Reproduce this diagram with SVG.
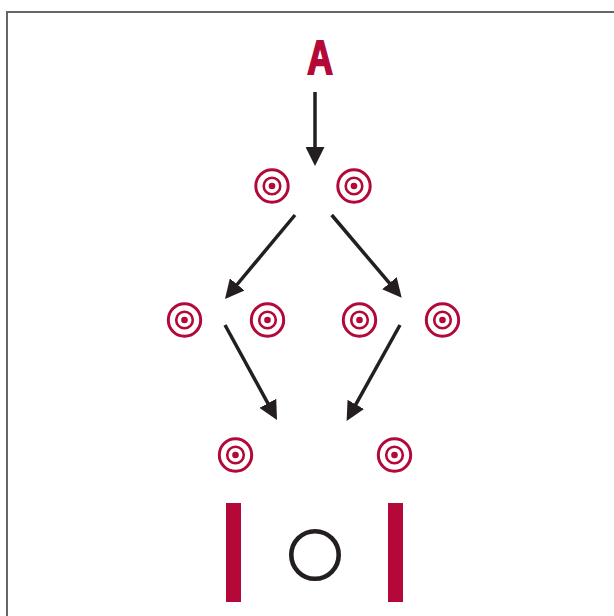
<svg xmlns="http://www.w3.org/2000/svg" width="614" height="616" viewBox="0 0 614 616">
  <style>
    .ring { fill: none; stroke: #b30838; }
    .outer { stroke-width: 3; }
    .inner { stroke-width: 2.6; }
    .dot { fill: #b30838; }
    .arrow { stroke: #231f20; stroke-width: 3.5; fill: none; marker-end: url(#head); }
    .bar { fill: #b30838; }
    .label { font-family: "Liberation Sans", Arial, sans-serif; font-weight: bold; font-size: 48px; fill: #b30838; stroke: #b30838; stroke-width: 2; stroke-linejoin: miter; }
  </style>
  <defs>
    <marker id="head" markerUnits="userSpaceOnUse" viewBox="0 0 19 19" markerWidth="19" markerHeight="19" refX="4" refY="9.5" orient="auto">
      <path d="M0,0 L19,9.5 L0,19 z" fill="#231f20"/>
    </marker>
    <g id="target">
      <circle class="ring outer" r="16.2"/>
      <circle class="ring inner" r="8.3"/>
      <circle class="dot" r="3.3"/>
    </g>
  </defs>
  <rect width="614" height="616" fill="#ffffff"/>
  <path d="M7,616 V12 H614" fill="none" stroke="#666666" stroke-width="2"/>

  <g id="label-A">
    <text class="label" text-anchor="middle" transform="translate(320,74) scale(0.74,1)">A</text>
  </g>

  <g id="t1"><use href="#target" x="272" y="186"/></g>
  <g id="t2"><use href="#target" x="354" y="186"/></g>
  <g id="t3"><use href="#target" x="184.5" y="320"/></g>
  <g id="t4"><use href="#target" x="267.5" y="320"/></g>
  <g id="t5"><use href="#target" x="359.5" y="320"/></g>
  <g id="t6"><use href="#target" x="442.5" y="320"/></g>
  <g id="t7"><use href="#target" x="235.5" y="455"/></g>
  <g id="t8"><use href="#target" x="394.5" y="455"/></g>

  <g id="bar-left"><rect class="bar" x="226" y="503" width="15" height="99"/></g>
  <g id="bar-right"><rect class="bar" x="388" y="503" width="15" height="99"/></g>
  <g id="ball"><circle cx="315" cy="555" r="23.7" fill="none" stroke="#231f20" stroke-width="4.6"/></g>

  <g id="connectors">
    <line class="arrow" x1="315" y1="92" x2="315" y2="151"/>
    <line class="arrow" x1="295" y1="215" x2="234.6" y2="287.5"/>
    <line class="arrow" x1="331.7" y1="215" x2="392" y2="286.2"/>
    <line class="arrow" x1="225" y1="325" x2="269.8" y2="406.8"/>
    <line class="arrow" x1="400" y1="325" x2="353.9" y2="407.9"/>
  </g>
</svg>
